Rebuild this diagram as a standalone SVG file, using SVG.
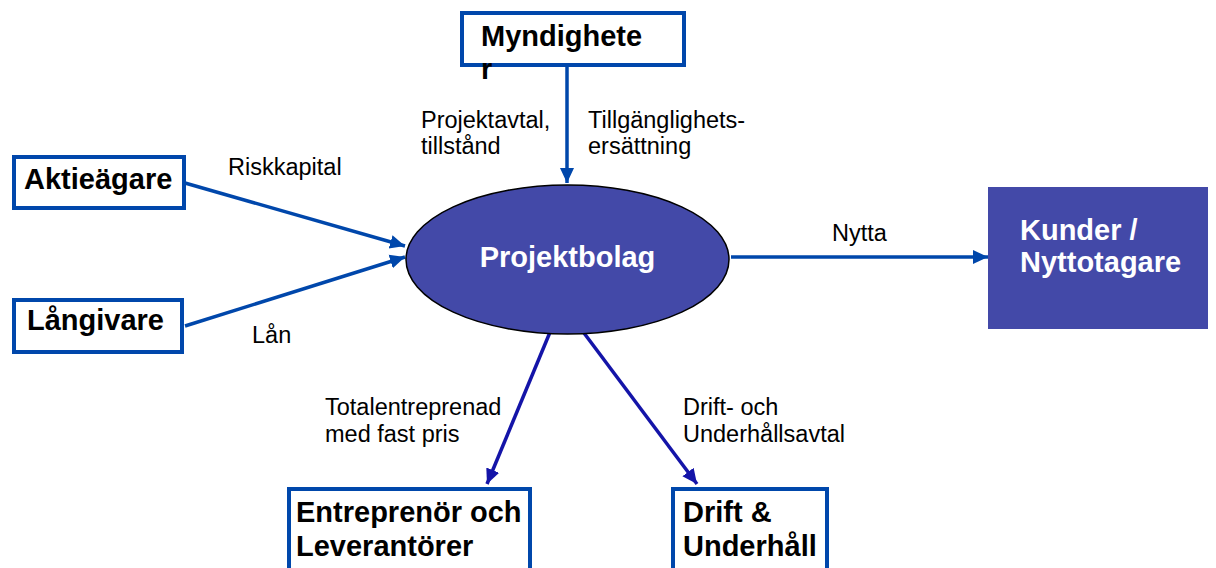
<svg xmlns="http://www.w3.org/2000/svg" width="1216" height="568" viewBox="0 0 1216 568">
<style>
.box{fill:#ffffff;stroke:#0047AB;stroke-width:4}
.t{font-family:"Liberation Sans",Arial,sans-serif;font-size:29px;font-weight:bold;fill:#000}
.w{font-family:"Liberation Sans",Arial,sans-serif;font-size:29px;font-weight:bold;fill:#ffffff}
.l{font-family:"Liberation Sans",Arial,sans-serif;font-size:23.5px;fill:#000}
.c{fill:none;stroke:#0047AB;stroke-width:3.5}
.c2{fill:none;stroke:#1414A8;stroke-width:3.5}
</style>
<defs>
<marker id="a" markerUnits="userSpaceOnUse" markerWidth="16" markerHeight="16" viewBox="0 0 16 16" refX="15" refY="8" orient="auto"><path d="M0,1 L15,8 L0,15 z" fill="#0047AB"/></marker>
<marker id="a2" markerUnits="userSpaceOnUse" markerWidth="16" markerHeight="16" viewBox="0 0 16 16" refX="15" refY="8" orient="auto"><path d="M0,1 L15,8 L0,15 z" fill="#1414A8"/></marker>
</defs>
<rect width="1216" height="568" fill="#ffffff"/>
<g id="connectors">
<path class="c" d="M567,65 L567,183" marker-end="url(#a)"/>
<path class="c" d="M185,183 L405,246" marker-end="url(#a)"/>
<path class="c" d="M185,326 L405,257" marker-end="url(#a)"/>
<path class="c" d="M731,257 L988,257" marker-end="url(#a)"/>
<path class="c2" d="M553,325 L487,484" marker-end="url(#a2)"/>
<path class="c2" d="M578,325 L697,484" marker-end="url(#a2)"/>
<text class="l" x="421" y="128">Projektavtal,</text>
<text class="l" x="421" y="154">tillstånd</text>
<text class="l" x="588" y="128">Tillgänglighets-</text>
<text class="l" x="588" y="154">ersättning</text>
<text class="l" x="228" y="175">Riskkapital</text>
<text class="l" x="252" y="343">Lån</text>
<text class="l" x="832" y="241">Nytta</text>
<text class="l" x="325" y="415">Totalentreprenad</text>
<text class="l" x="325" y="442">med fast pris</text>
<text class="l" x="683" y="415">Drift- och</text>
<text class="l" x="683" y="442">Underhållsavtal</text>
</g>
<g id="myndigheter">
<rect class="box" x="462" y="13" width="222" height="52"/>
<text class="t" x="481" y="46">Myndighete</text>
<text class="t" x="481" y="79">r</text>
</g>
<g id="aktieagare">
<rect class="box" x="14" y="157" width="170" height="51"/>
<text class="t" x="24" y="189">Aktieägare</text>
</g>
<g id="langivare">
<rect class="box" x="14" y="300" width="168" height="52"/>
<text class="t" x="27" y="330">Långivare</text>
</g>
<g id="projektbolag">
<ellipse cx="567.5" cy="259.5" rx="161.5" ry="74.5" fill="#4349A8" stroke="#000" stroke-width="1.5"/>
<text class="w" x="567.5" y="267" text-anchor="middle">Projektbolag</text>
</g>
<g id="kunder">
<rect x="988" y="187" width="220" height="142" fill="#4349A8"/>
<text class="w" x="1020" y="240">Kunder /</text>
<text class="w" x="1020" y="272">Nyttotagare</text>
</g>
<g id="entreprenor">
<rect class="box" x="289" y="489" width="241" height="100"/>
<text class="t" x="296" y="522">Entreprenör och</text>
<text class="t" x="296" y="556">Leverantörer</text>
</g>
<g id="drift">
<rect class="box" x="673" y="489" width="154" height="100"/>
<text class="t" x="683" y="522">Drift &amp;</text>
<text class="t" x="683" y="556">Underhåll</text>
</g>
</svg>
